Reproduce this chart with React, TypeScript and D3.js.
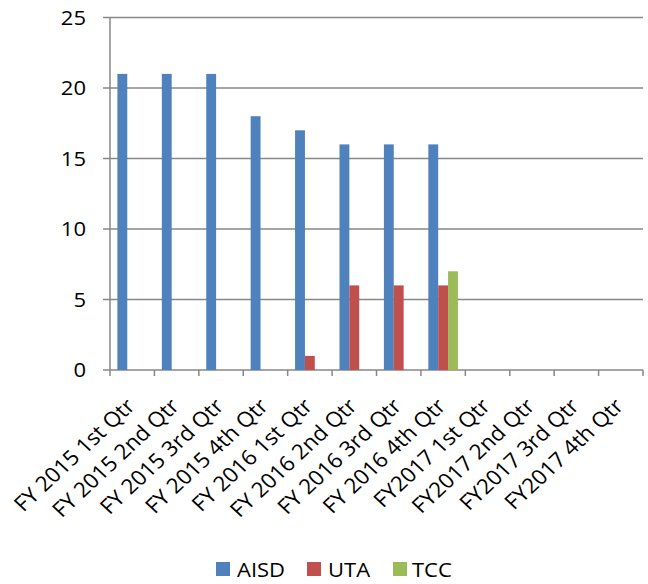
import React from "react";
import * as d3 from "d3";

const categories = [
  "FY 2015 1st Qtr", "FY 2015 2nd Qtr", "FY 2015 3rd Qtr", "FY 2015 4th Qtr",
  "FY 2016 1st Qtr", "FY 2016 2nd Qtr", "FY 2016 3rd Qtr", "FY 2016 4th Qtr",
  "FY2017 1st Qtr", "FY2017 2nd Qtr", "FY2017 3rd Qtr", "FY2017 4th Qtr",
];
const seriesNames = ["AISD", "UTA", "TCC"];
const aisd: (number | null)[] = [21, 21, 21, 18, 17, 16, 16, 16, null, null, null, null];
const uta: (number | null)[] = [null, null, null, null, 1, 6, 6, 6, null, null, null, null];
const tcc: (number | null)[] = [null, null, null, null, null, null, null, 7, null, null, null, null];
const colors = ["#4F81BD", "#C0504D", "#9BBB59"];
const yTicks = [0, 5, 10, 15, 20, 25];

const W = 648, H = 584;
const left = 110, right = 643, top = 17.5, bottom = 370;
const FONT = "'Open Sans', 'Noto Sans', sans-serif";

export default function App() {
  const x = d3.scaleBand<string>().domain(categories).range([left, right]).paddingInner(0).paddingOuter(0);
  const y = d3.scaleLinear().domain([0, 25]).range([bottom, top]);
  const series = [aisd, uta, tcc];
  const bw = x.bandwidth();
  const barW = bw / 4.5;
  const gap = (bw - 3 * barW) / 2;
  const legendItems = [
    { name: seriesNames[0], sx: 216, tx: 237 },
    { name: seriesNames[1], sx: 307, tx: 328 },
    { name: seriesNames[2], sx: 393, tx: 412 },
  ];
  return (
    <svg width={W} height={H} style={{ position: "absolute", left: 0, top: 0, background: "#fff" }}>
      {yTicks.map((t) => (
        <g key={t}>
          <line x1={left - 7} x2={right} y1={y(t)} y2={y(t)} stroke="#878787" strokeWidth={1.5} />
          <text transform={`translate(86,${y(t)}) scale(1.1,1)`} dy="0.36em" textAnchor="end" fontFamily={FONT} fontSize={20} fill="#000">{t}</text>
        </g>
      ))}
      <line x1={left} x2={left} y1={top} y2={bottom} stroke="#878787" strokeWidth={1.5} />
      {categories.map((c, i) => (
        <line key={"tk" + i} x1={x(c)!} x2={x(c)!} y1={bottom} y2={bottom + 6} stroke="#878787" strokeWidth={1.5} />
      ))}
      <line x1={right} x2={right} y1={bottom} y2={bottom + 6} stroke="#878787" strokeWidth={1.5} />
      {series.map((s, si) =>
        s.map((v, i) =>
          v == null ? null : (
            <rect key={si + "-" + i} x={x(categories[i])! + gap + si * barW} y={y(v)} width={barW} height={y(0) - y(v)} fill={colors[si]} />
          )
        )
      )}
      {categories.map((c, i) => {
        const cx = x(c)! + bw / 2 - 4;
        const cy = bottom + 30;
        return (
          <text key={"lb" + i} transform={`translate(${cx},${cy}) scale(1.07,1) rotate(-45)`} textAnchor="end" dy="0.5em" fontFamily={FONT} fontSize={21} fill="#000">{c}</text>
        );
      })}
      {legendItems.map((l, i) => (
        <g key={l.name}>
          <rect x={l.sx} y={562} width={14} height={14} fill={colors[i]} />
          <text transform={`translate(${l.tx},577) scale(1.1,1)`} fontFamily={FONT} fontSize={20} fill="#000">{l.name}</text>
        </g>
      ))}
    </svg>
  );
}
